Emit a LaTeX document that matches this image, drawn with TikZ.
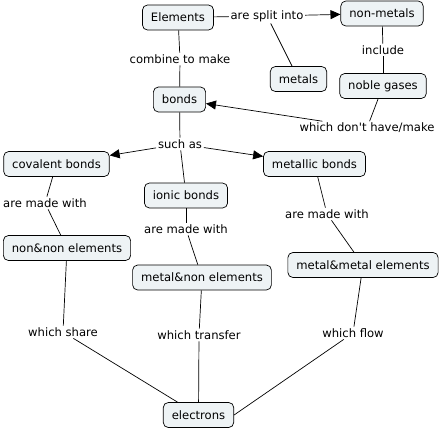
\documentclass[tikz,border=0pt]{standalone}
\usepackage{fontspec}
\setmainfont{DejaVu Sans}
\usepackage{xcolor}
\usetikzlibrary{arrows.meta}
\definecolor{conceptfill}{HTML}{EEF3F5}

\begin{document}
\begin{tikzpicture}[x=1pt,y=-1pt,line width=0.7pt,>={Triangle[length=10pt,width=9pt]},
  concept/.style={draw,rounded corners=5pt,fill=conceptfill,inner xsep=8.5pt,
    minimum height=25pt,font=\fontsize{11.6}{13}\selectfont},
  phrase/.style={inner sep=1.5pt,font=\fontsize{11.6}{13}\selectfont}]
\useasboundingbox (0,0) rectangle (441,429);
%%%CONCEPTS
\node[concept] (elements) at (178,17.5) {Elements};
\node[concept] (nonmetals) at (382,13.5) {non-metals};
\node[concept] (metals) at (298.5,79) {metals};
\node[concept] (noble) at (383,86) {noble gases};
\node[concept] (bonds) at (179.5,99.5) {bonds};
\node[concept] (covalent) at (56.5,164) {covalent bonds};
\node[concept] (metallic) at (314.5,164) {metallic bonds};
\node[concept] (ionic) at (186,195.5) {ionic bonds};
\node[concept] (nonnon) at (67,248) {non\&non elements};
\node[concept] (metalmetal) at (363,265) {metal\&metal elements};
\node[concept] (metalnon) at (202,277.5) {metal\&non elements};
\node[concept] (electrons) at (198.5,415) {electrons};
%%%LINKING PHRASES
\node[phrase] (split) at (267,16) {are split into};
\node[phrase] (combine) at (180,59) {combine to make};
\node[phrase] (include) at (383,50) {include};
\node[phrase] (donthave) at (367,128) {which don\textquotesingle t have/make};
\node[phrase] (suchas) at (180,144) {such as};
\node[phrase] (madecov) at (45,203) {are made with};
\node[phrase] (madeion) at (186,229) {are made with};
\node[phrase] (mademet) at (327,214) {are made with};
\node[phrase] (share) at (63,332) {which share};
\node[phrase] (transfer) at (199,335) {which transfer};
\node[phrase] (flow) at (353,333) {which flow};
%%%CONNECTIONS
\draw (elements) -- (split);
\draw[->] (split) -- (nonmetals);
\draw (split) -- (metals);
\draw (elements) -- (combine);
\draw (combine) -- (bonds);
\draw (nonmetals) -- (include);
\draw (include) -- (noble);
\draw (noble) -- (donthave);
\draw[->] (donthave) -- (bonds);
\draw (bonds) -- (suchas);
\draw[->] (suchas) -- (covalent);
\draw[->] (suchas) -- (metallic);
\draw (suchas) -- (ionic);
\draw (covalent) -- (madecov);
\draw (madecov) -- (nonnon);
\draw (ionic) -- (madeion);
\draw (madeion) -- (metalnon);
\draw (metallic) -- (mademet);
\draw (mademet) -- (metalmetal);
\draw (nonnon) -- (share);
\draw (share) -- (electrons);
\draw (metalnon) -- (transfer);
\draw (transfer) -- (electrons);
\draw (metalmetal) -- (flow);
\draw (flow) -- (electrons.east);
\end{tikzpicture}
\end{document}
